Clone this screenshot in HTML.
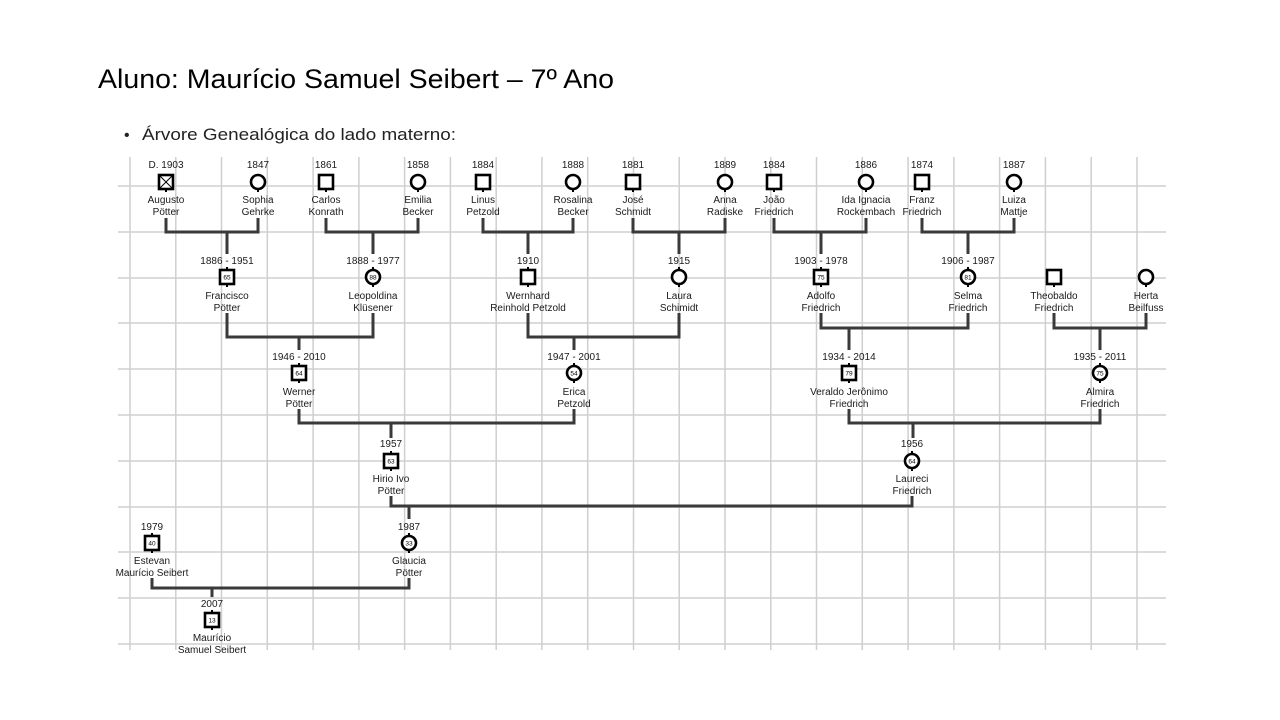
<!DOCTYPE html>
<html><head><meta charset="utf-8"><style>
html,body{margin:0;padding:0;background:#fff;}
svg{display:block}
.t{font-family:"Liberation Sans",Arial,sans-serif;font-size:10px;fill:#1a1a1a;text-anchor:middle}
.a{font-family:"Liberation Sans",Arial,sans-serif;font-size:6.5px;fill:#000;text-anchor:middle}
.g line{stroke:#cfcfcf;stroke-width:1.5}
.c{stroke:#3a3a3a;stroke-width:3;fill:none}
.s{stroke:#000;stroke-width:2.6;fill:#fff}
</style></head><body>
<svg width="1280" height="720" viewBox="0 0 1280 720" xmlns="http://www.w3.org/2000/svg">
<text x="98" y="88" font-family="Liberation Sans Narrow, Liberation Sans, sans-serif" font-size="27" textLength="516" lengthAdjust="spacingAndGlyphs" fill="#000">Aluno: Maurício Samuel Seibert – 7º Ano</text>
<text x="124" y="140" font-family="Liberation Sans, sans-serif" font-size="16" fill="#222">•</text>
<text x="142" y="140" font-family="Liberation Sans, sans-serif" font-size="17" textLength="314" lengthAdjust="spacingAndGlyphs" fill="#222">Árvore Genealógica  do lado materno:</text>

<g class="g">
<line x1="130" y1="157" x2="130" y2="650"/><line x1="175.8" y1="157" x2="175.8" y2="650"/><line x1="221.5" y1="157" x2="221.5" y2="650"/><line x1="267.3" y1="157" x2="267.3" y2="650"/><line x1="313.1" y1="157" x2="313.1" y2="650"/><line x1="358.9" y1="157" x2="358.9" y2="650"/><line x1="404.6" y1="157" x2="404.6" y2="650"/><line x1="450.4" y1="157" x2="450.4" y2="650"/><line x1="496.2" y1="157" x2="496.2" y2="650"/><line x1="541.9" y1="157" x2="541.9" y2="650"/><line x1="587.7" y1="157" x2="587.7" y2="650"/><line x1="633.5" y1="157" x2="633.5" y2="650"/><line x1="679.2" y1="157" x2="679.2" y2="650"/><line x1="725" y1="157" x2="725" y2="650"/><line x1="770.8" y1="157" x2="770.8" y2="650"/><line x1="816.5" y1="157" x2="816.5" y2="650"/><line x1="862.3" y1="157" x2="862.3" y2="650"/><line x1="908.1" y1="157" x2="908.1" y2="650"/><line x1="953.9" y1="157" x2="953.9" y2="650"/><line x1="999.6" y1="157" x2="999.6" y2="650"/><line x1="1045.4" y1="157" x2="1045.4" y2="650"/><line x1="1091.2" y1="157" x2="1091.2" y2="650"/><line x1="1137" y1="157" x2="1137" y2="650"/>
<line x1="118" y1="186" x2="1166" y2="186"/><line x1="118" y1="232" x2="1166" y2="232"/><line x1="118" y1="278" x2="1166" y2="278"/><line x1="118" y1="323" x2="1166" y2="323"/><line x1="118" y1="369" x2="1166" y2="369"/><line x1="118" y1="415" x2="1166" y2="415"/><line x1="118" y1="461" x2="1166" y2="461"/><line x1="118" y1="507" x2="1166" y2="507"/><line x1="118" y1="552" x2="1166" y2="552"/><line x1="118" y1="598" x2="1166" y2="598"/><line x1="118" y1="644" x2="1166" y2="644"/>
</g>

<!-- connectors -->
<g class="c">
<polyline points="166,218 166,232 258,232 258,218"/><line x1="227" y1="232" x2="227" y2="254"/>
<polyline points="326,218 326,232 418,232 418,218"/><line x1="373" y1="232" x2="373" y2="254"/>
<polyline points="483,218 483,232 573,232 573,218"/><line x1="528" y1="232" x2="528" y2="254"/>
<polyline points="633,218 633,232 725,232 725,218"/><line x1="679" y1="232" x2="679" y2="254"/>
<polyline points="774,218 774,232 866,232 866,218"/><line x1="821" y1="232" x2="821" y2="254"/>
<polyline points="922,218 922,232 1014,232 1014,218"/><line x1="968" y1="232" x2="968" y2="254"/>
<polyline points="227,313 227,337 373,337 373,313"/><line x1="299" y1="337" x2="299" y2="350"/>
<polyline points="528,313 528,337 679,337 679,313"/><line x1="574" y1="337" x2="574" y2="350"/>
<polyline points="821,313 821,328 968,328 968,313"/><line x1="849" y1="328" x2="849" y2="350"/>
<polyline points="1054,313 1054,328 1146,328 1146,313"/><line x1="1100" y1="328" x2="1100" y2="350"/>
<polyline points="299,409 299,423 574,423 574,409"/><line x1="391" y1="423" x2="391" y2="438"/>
<polyline points="849,409 849,423 1100,423 1100,409"/><line x1="913" y1="423" x2="913" y2="438"/>
<polyline points="391,496 391,506 912,506 912,496"/><line x1="409" y1="506" x2="409" y2="519"/>
<polyline points="152,578 152,588 409,588 409,578"/><line x1="212" y1="588" x2="212" y2="597"/>
</g>

<!-- Row 1 -->
<g>
<line x1="166" y1="188" x2="166" y2="192" stroke="#000" stroke-width="2"/><rect class="s" x="159" y="175" width="14" height="14"/><line x1="160" y1="176" x2="172" y2="188" stroke="#000" stroke-width="1"/><line x1="172" y1="176" x2="160" y2="188" stroke="#000" stroke-width="1"/>
<text class="t" x="166" y="168">D. 1903</text><text class="t" x="166" y="203">Augusto</text><text class="t" x="166" y="215">Pötter</text>
<line x1="258" y1="188" x2="258" y2="192" stroke="#000" stroke-width="2"/><circle class="s" cx="258" cy="182" r="7"/>
<text class="t" x="258" y="168">1847</text><text class="t" x="258" y="203">Sophia</text><text class="t" x="258" y="215">Gehrke</text>
<line x1="326" y1="188" x2="326" y2="192" stroke="#000" stroke-width="2"/><rect class="s" x="319" y="175" width="14" height="14"/>
<text class="t" x="326" y="168">1861</text><text class="t" x="326" y="203">Carlos</text><text class="t" x="326" y="215">Konrath</text>
<line x1="418" y1="188" x2="418" y2="192" stroke="#000" stroke-width="2"/><circle class="s" cx="418" cy="182" r="7"/>
<text class="t" x="418" y="168">1858</text><text class="t" x="418" y="203">Emilia</text><text class="t" x="418" y="215">Becker</text>
<line x1="483" y1="188" x2="483" y2="192" stroke="#000" stroke-width="2"/><rect class="s" x="476" y="175" width="14" height="14"/>
<text class="t" x="483" y="168">1884</text><text class="t" x="483" y="203">Linus</text><text class="t" x="483" y="215">Petzold</text>
<line x1="573" y1="188" x2="573" y2="192" stroke="#000" stroke-width="2"/><circle class="s" cx="573" cy="182" r="7"/>
<text class="t" x="573" y="168">1888</text><text class="t" x="573" y="203">Rosalina</text><text class="t" x="573" y="215">Becker</text>
<line x1="633" y1="188" x2="633" y2="192" stroke="#000" stroke-width="2"/><rect class="s" x="626" y="175" width="14" height="14"/>
<text class="t" x="633" y="168">1881</text><text class="t" x="633" y="203">José</text><text class="t" x="633" y="215">Schmidt</text>
<line x1="725" y1="188" x2="725" y2="192" stroke="#000" stroke-width="2"/><circle class="s" cx="725" cy="182" r="7"/>
<text class="t" x="725" y="168">1889</text><text class="t" x="725" y="203">Anna</text><text class="t" x="725" y="215">Radiske</text>
<line x1="774" y1="188" x2="774" y2="192" stroke="#000" stroke-width="2"/><rect class="s" x="767" y="175" width="14" height="14"/>
<text class="t" x="774" y="168">1884</text><text class="t" x="774" y="203">João</text><text class="t" x="774" y="215">Friedrich</text>
<line x1="866" y1="188" x2="866" y2="192" stroke="#000" stroke-width="2"/><circle class="s" cx="866" cy="182" r="7"/>
<text class="t" x="866" y="168">1886</text><text class="t" x="866" y="203">Ida Ignacia</text><text class="t" x="866" y="215">Rockembach</text>
<line x1="922" y1="188" x2="922" y2="192" stroke="#000" stroke-width="2"/><rect class="s" x="915" y="175" width="14" height="14"/>
<text class="t" x="922" y="168">1874</text><text class="t" x="922" y="203">Franz</text><text class="t" x="922" y="215">Friedrich</text>
<line x1="1014" y1="188" x2="1014" y2="192" stroke="#000" stroke-width="2"/><circle class="s" cx="1014" cy="182" r="7"/>
<text class="t" x="1014" y="168">1887</text><text class="t" x="1014" y="203">Luiza</text><text class="t" x="1014" y="215">Mattje</text>
</g>

<!-- Row 2 c=277 -->
<g>
<line x1="227" y1="267" x2="227" y2="287" stroke="#000" stroke-width="2"/><rect class="s" x="220" y="270" width="14" height="14"/><text class="a" x="227" y="279.5">65</text>
<text class="t" x="227" y="264">1886 - 1951</text><text class="t" x="227" y="299">Francisco</text><text class="t" x="227" y="311">Pötter</text>
<line x1="373" y1="267" x2="373" y2="287" stroke="#000" stroke-width="2"/><circle class="s" cx="373" cy="277" r="7"/><text class="a" x="373" y="279.5">88</text>
<text class="t" x="373" y="264">1888 - 1977</text><text class="t" x="373" y="299">Leopoldina</text><text class="t" x="373" y="311">Klüsener</text>
<line x1="528" y1="267" x2="528" y2="287" stroke="#000" stroke-width="2"/><rect class="s" x="521" y="270" width="14" height="14"/>
<text class="t" x="528" y="264">1910</text><text class="t" x="528" y="299">Wernhard</text><text class="t" x="528" y="311">Reinhold Petzold</text>
<line x1="679" y1="267" x2="679" y2="287" stroke="#000" stroke-width="2"/><circle class="s" cx="679" cy="277" r="7"/>
<text class="t" x="679" y="264">1915</text><text class="t" x="679" y="299">Laura</text><text class="t" x="679" y="311">Schimidt</text>
<line x1="821" y1="267" x2="821" y2="287" stroke="#000" stroke-width="2"/><rect class="s" x="814" y="270" width="14" height="14"/><text class="a" x="821" y="279.5">75</text>
<text class="t" x="821" y="264">1903 - 1978</text><text class="t" x="821" y="299">Adolfo</text><text class="t" x="821" y="311">Friedrich</text>
<line x1="968" y1="267" x2="968" y2="287" stroke="#000" stroke-width="2"/><circle class="s" cx="968" cy="277" r="7"/><text class="a" x="968" y="279.5">81</text>
<text class="t" x="968" y="264">1906 - 1987</text><text class="t" x="968" y="299">Selma</text><text class="t" x="968" y="311">Friedrich</text>
<line x1="1054" y1="282" x2="1054" y2="287" stroke="#000" stroke-width="2"/><rect class="s" x="1047" y="270" width="14" height="14"/>
<text class="t" x="1054" y="299">Theobaldo</text><text class="t" x="1054" y="311">Friedrich</text>
<line x1="1146" y1="282" x2="1146" y2="287" stroke="#000" stroke-width="2"/><circle class="s" cx="1146" cy="277" r="7"/>
<text class="t" x="1146" y="299">Herta</text><text class="t" x="1146" y="311">Beilfuss</text>
</g>

<!-- Row 3 c=373 -->
<g>
<line x1="299" y1="363" x2="299" y2="383" stroke="#000" stroke-width="2"/><rect class="s" x="292" y="366" width="14" height="14"/><text class="a" x="299" y="375.5">64</text>
<text class="t" x="299" y="360">1946 - 2010</text><text class="t" x="299" y="395">Werner</text><text class="t" x="299" y="407">Pötter</text>
<line x1="574" y1="363" x2="574" y2="383" stroke="#000" stroke-width="2"/><circle class="s" cx="574" cy="373" r="7"/><text class="a" x="574" y="375.5">54</text>
<text class="t" x="574" y="360">1947 - 2001</text><text class="t" x="574" y="395">Erica</text><text class="t" x="574" y="407">Petzold</text>
<line x1="849" y1="363" x2="849" y2="383" stroke="#000" stroke-width="2"/><rect class="s" x="842" y="366" width="14" height="14"/><text class="a" x="849" y="375.5">79</text>
<text class="t" x="849" y="360">1934 - 2014</text><text class="t" x="849" y="395">Veraldo Jerônimo</text><text class="t" x="849" y="407">Friedrich</text>
<line x1="1100" y1="363" x2="1100" y2="383" stroke="#000" stroke-width="2"/><circle class="s" cx="1100" cy="373" r="7"/><text class="a" x="1100" y="375.5">75</text>
<text class="t" x="1100" y="360">1935 - 2011</text><text class="t" x="1100" y="395">Almira</text><text class="t" x="1100" y="407">Friedrich</text>
</g>

<!-- Row 4 c=461 -->
<g>
<line x1="391" y1="451" x2="391" y2="471" stroke="#000" stroke-width="2"/><rect class="s" x="384" y="454" width="14" height="14"/><text class="a" x="391" y="463.5">63</text>
<text class="t" x="391" y="447">1957</text><text class="t" x="391" y="482">Hirio Ivo</text><text class="t" x="391" y="494">Pötter</text>
<line x1="912" y1="451" x2="912" y2="471" stroke="#000" stroke-width="2"/><circle class="s" cx="912" cy="461" r="7"/><text class="a" x="912" y="463.5">64</text>
<text class="t" x="912" y="447">1956</text><text class="t" x="912" y="482">Laureci</text><text class="t" x="912" y="494">Friedrich</text>
</g>

<!-- Row 5 c=543 -->
<g>
<line x1="152" y1="533" x2="152" y2="553" stroke="#000" stroke-width="2"/><rect class="s" x="145" y="536" width="14" height="14"/><text class="a" x="152" y="545.5">40</text>
<text class="t" x="152" y="530">1979</text><text class="t" x="152" y="564">Estevan</text><text class="t" x="152" y="576">Maurício Seibert</text>
<line x1="409" y1="533" x2="409" y2="553" stroke="#000" stroke-width="2"/><circle class="s" cx="409" cy="543" r="7"/><text class="a" x="409" y="545.5">33</text>
<text class="t" x="409" y="530">1987</text><text class="t" x="409" y="564">Glaucia</text><text class="t" x="409" y="576">Pötter</text>
</g>

<!-- Row 6 c=620 -->
<g>
<line x1="212" y1="610" x2="212" y2="630" stroke="#000" stroke-width="2"/><rect class="s" x="205" y="613" width="14" height="14"/><text class="a" x="212" y="622.5">13</text>
<text class="t" x="212" y="607">2007</text><text class="t" x="212" y="641">Maurício</text><text class="t" x="212" y="653">Samuel Seibert</text>
</g>
</svg>
</body></html>
